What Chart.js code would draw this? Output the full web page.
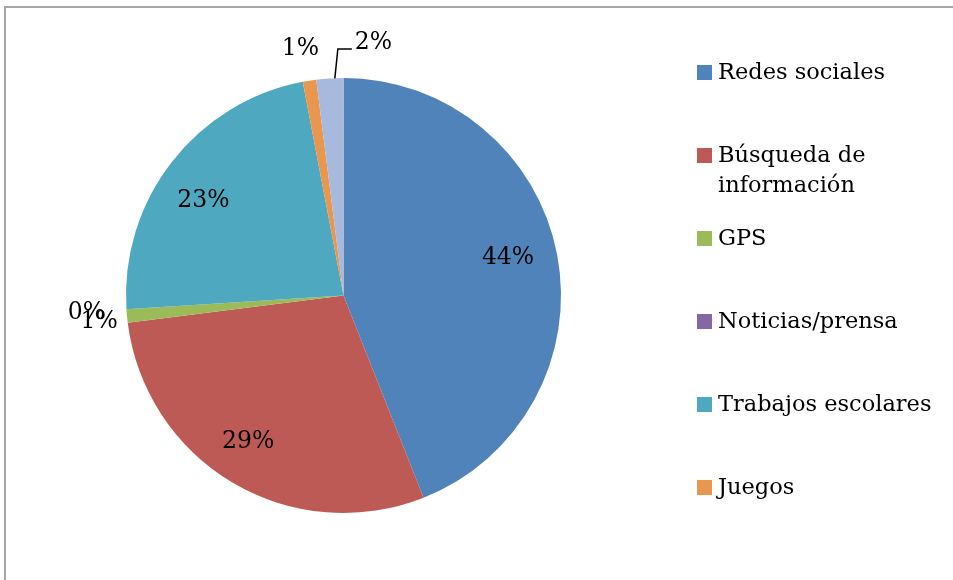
<!DOCTYPE html>
<html>
<head>
<meta charset="utf-8">
<script src="https://cdn.jsdelivr.net/npm/chart.js@4.4.1/dist/chart.umd.min.js"></script>
<style>
  html, body { margin: 0; padding: 0; background: #ffffff; }
  #wrap { position: relative; width: 953px; height: 580px; }
  canvas { display: block; }
</style>
</head>
<body>
<div id="wrap"><canvas id="c" width="953" height="580"></canvas></div>
<script>
// ---- data ----
const categories = ['Redes sociales', 'Búsqueda de información', 'GPS', 'Noticias/prensa', 'Trabajos escolares', 'Juegos', 'Otros'];
const values = [44, 29, 1, 0, 23, 1, 2];
const legendLines = [['Redes sociales'], ['Búsqueda de', 'información'], ['GPS'], ['Noticias/prensa'], ['Trabajos escolares'], ['Juegos']];
const colors = ['#5083BA', '#BE5A55', '#9BBB59', '#8468A4', '#4EA8C0', '#E9974F', '#A7B9DC'];

// label placement: inside = fraction of radius; outside = px beyond radius
const labelPlace = [
  { inside: 0.77, dy: -6 },
  { inside: 0.78, dx: -9 },
  { outside: 28, dy: 3 },
  { outside: 40, dy: 1 },
  { inside: 0.78, dx: -6, dy: 9 },
  { outside: 32, dx: -4 },
  { leader: true }
];

const FONT = '"DejaVu Serif", serif';

const labelsPlugin = {
  id: 'customLabels',
  afterDatasetsDraw(chart) {
    const ctx = chart.ctx;
    const meta = chart.getDatasetMeta(0);
    const total = values.reduce((a, b) => a + b, 0);
    ctx.save();
    ctx.fillStyle = '#000';
    ctx.font = '23.5px ' + FONT;
    ctx.textBaseline = 'middle';
    meta.data.forEach((arc, i) => {
      const p = arc.getProps(['x', 'y', 'startAngle', 'endAngle', 'outerRadius'], true);
      const mid = (p.startAngle + p.endAngle) / 2;
      const R = p.outerRadius;
      const txt = Math.round(values[i] / total * 100) + '%';
      const pl = labelPlace[i];
      if (pl.leader) {
        const x0 = p.x + Math.cos(mid) * R + 5;
        const y0 = p.y + Math.sin(mid) * R;
        const x1 = x0 + 3, y1 = p.y - R - 29;
        const x2 = x1 + 14;
        ctx.strokeStyle = '#000';
        ctx.lineWidth = 1.5;
        ctx.beginPath();
        ctx.moveTo(x0, y0);
        ctx.lineTo(x1, y1);
        ctx.lineTo(x2, y1);
        ctx.stroke();
        ctx.textAlign = 'left';
        ctx.fillText(txt, x2 + 3, y1 - 6);
        return;
      }
      const r = pl.inside !== undefined ? R * pl.inside : R + pl.outside;
      const x = p.x + Math.cos(mid) * r + (pl.dx || 0);
      const y = p.y + Math.sin(mid) * r + (pl.dy || 0);
      ctx.textAlign = 'center';
      ctx.fillText(txt, x, y);
    });
    ctx.restore();
  }
};

const legendPlugin = {
  id: 'customLegend',
  afterDraw(chart) {
    const ctx = chart.ctx;
    ctx.save();
    // frame
    ctx.strokeStyle = '#a6a6a6';
    ctx.lineWidth = 2;
    ctx.beginPath();
    ctx.moveTo(5, 580);
    ctx.lineTo(5, 7);
    ctx.lineTo(953, 7);
    ctx.stroke();
    // legend
    const x0 = 697, top0 = 65, step = 83, sq = 15, lineH = 30;
    ctx.font = '22.5px ' + FONT;
    ctx.textBaseline = 'middle';
    ctx.textAlign = 'left';
    legendLines.forEach((lines, i) => {
      const t = top0 + i * step;
      ctx.fillStyle = colors[i];
      ctx.fillRect(x0, t, sq, sq);
      ctx.fillStyle = '#000';
      lines.forEach((ln, j) => {
        ctx.fillText(ln, 718, t + sq / 2 + 1 + j * lineH);
      });
    });
    ctx.restore();
  }
};

new Chart(document.getElementById('c'), {
  type: 'pie',
  data: {
    labels: categories,
    datasets: [{
      data: values,
      backgroundColor: colors,
      borderWidth: 0
    }]
  },
  options: {
    responsive: false,
    animation: false,
    layout: { padding: { top: 78, bottom: 67, left: 126, right: 392 } },
    plugins: {
      legend: { display: false },
      tooltip: { enabled: false }
    }
  },
  plugins: [labelsPlugin, legendPlugin]
});
</script>
</body>
</html>
